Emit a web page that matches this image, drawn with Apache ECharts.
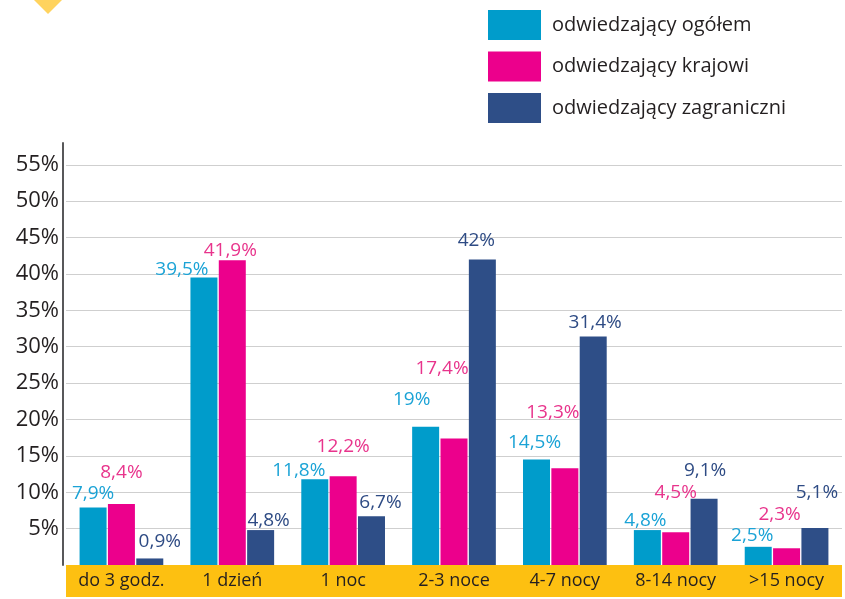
<!DOCTYPE html>
<html>
<head>
<meta charset="utf-8">
<script src="https://cdn.jsdelivr.net/npm/echarts@6/dist/echarts.min.js"></script>
<style>html,body{margin:0;padding:0;background:#fff;}#c{width:845px;height:599px;}</style>
</head>
<body>
<div id="c"></div>
<script>
const categories = ['do 3 godz.', '1 dzień', '1 noc', '2-3 noce', '4-7 nocy', '8-14 nocy', '>15 nocy'];
const seriesNames = ['odwiedzający ogółem', 'odwiedzający krajowi', 'odwiedzający zagraniczni'];
const ogolem = [7.9, 39.5, 11.8, 19, 14.5, 4.8, 2.5];
const krajowi = [8.4, 41.9, 12.2, 17.4, 13.3, 4.5, 2.3];
const zagraniczni = [0.9, 4.8, 6.7, 42, 31.4, 9.1, 5.1];

// label nudges (style only)
const shiftOgolem = [[0,-5],[-22,1],[-16,0],[-14,-18],[-2,-8],[-2,0],[-6,-2]];
const shiftKrajowi = [[0,-22],[-2,-1],[0,-21],[-12,-61],[-12,-47],[0,-31],[-7,-25]];
const shiftZagr = [[10,-8],[8,0],[9,-5],[-6,-10],[2,-5],[1,-19],[2,-26]];

const FONT = '"Open Sans", "Noto Sans", sans-serif';
const TEXT = '#231f20';
const barColors = ['#009ccb', '#ec008c', '#2e4e87'];
const labelColors = ['#1ba3d6', '#e8348c', '#2e4b84'];

function fmt(v) { return String(Math.round(v * 10) / 10).replace('.', ',') + '%'; }

function mkSeries(name, vals, shifts, idx) {
  return {
    name: name,
    type: 'bar',
    barWidth: 27,
    barGap: '5%',
    itemStyle: { color: barColors[idx] },
    label: {
      show: true, position: 'top', distance: 0,
      fontFamily: FONT, fontSize: 19, lineHeight: 18,
      color: labelColors[idx],
      formatter: p => fmt(p.value)
    },
    data: vals.map((v, i) => ({ value: v, label: { offset: shifts[i] } }))
  };
}

const chart = echarts.init(document.getElementById('c'), null, { renderer: 'canvas' });
chart.setOption({
  animation: false,
  backgroundColor: '#fff',
  textStyle: { fontFamily: FONT, color: TEXT },
  graphic: [{
    type: 'polygon',
    shape: { points: [[48, -16], [63, -1], [48, 14], [33, -1]] },
    style: { fill: '#ffd35e' }
  }],
  legend: {
    orient: 'vertical', left: 488, top: 10, padding: 0,
    itemWidth: 53, itemHeight: 30, itemGap: 11.5,
    icon: 'rect',
    textStyle: { fontFamily: FONT, fontSize: 20, color: TEXT, padding: [0, 0, 0, 6] },
    data: seriesNames
  },
  grid: { left: 66, right: 3, top: 143, bottom: 34, containLabel: false },
  xAxis: {
    type: 'category',
    data: categories,
    offset: 16,
    axisLine: { show: true, onZero: false, lineStyle: { color: '#fdc011', width: 32, cap: 'butt' } },
    axisTick: { show: false },
    axisLabel: { margin: -10, fontFamily: FONT, fontSize: 18, lineHeight: 20, color: TEXT, interval: 0 },
    splitLine: { show: false }
  },
  yAxis: {
    type: 'value',
    min: 0, max: 58, interval: 5,
    offset: 3,
    axisLine: { show: true, lineStyle: { color: '#58585a', width: 2 } },
    axisTick: { show: false },
    axisLabel: {
      margin: 4, fontFamily: FONT, fontSize: 22, color: TEXT,
      formatter: v => (v > 0 && v % 5 === 0) ? v + '%' : ''
    },
    splitLine: { show: true, showMinLine: false, showMaxLine: false, lineStyle: { color: '#cfcfcf', width: 1 } }
  },
  series: [
    mkSeries(seriesNames[0], ogolem, shiftOgolem, 0),
    mkSeries(seriesNames[1], krajowi, shiftKrajowi, 1),
    mkSeries(seriesNames[2], zagraniczni, shiftZagr, 2)
  ]
});
</script>
</body>
</html>
